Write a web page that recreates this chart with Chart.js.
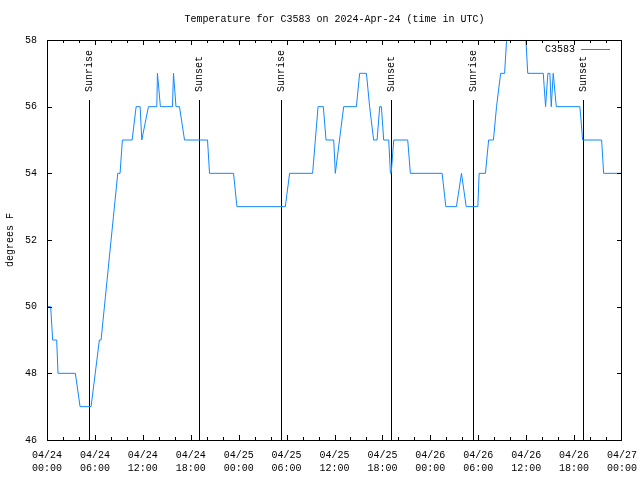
<!DOCTYPE html>
<html lang="en">
<head>
  <meta charset="UTF-8">
  <title>Temperature for C3583</title>
  <script src="https://cdn.jsdelivr.net/npm/chart.js"></script>
  <style>
    html, body { margin: 0; padding: 0; background: #fff; }
    canvas { display: block; }
  </style>
</head>
<body>
  <canvas id="tempChart" width="640" height="480"></canvas>

  <script>
    // station reading, hours since 04/24 00:00 UTC
    const stationName = "C3583";
    const hours = [
      0, 0.46, 0.71, 1.21, 1.38, 3.55, 4.14, 5.52, 6.56, 6.77,
      8.86, 9.15, 9.44, 10.66, 11.16, 11.66, 11.87, 12.70, 13.75, 13.83,
      14.20, 15.71, 15.84, 16.15, 16.59, 17.22, 20.10, 20.35, 23.36, 23.78,
      29.84, 30.38, 33.26, 33.94, 34.60, 34.94, 35.90, 36.10, 37.15, 38.74,
      39.15, 40.00, 40.40, 40.90, 41.33, 41.66, 41.87, 42.16, 42.79, 43.00,
      43.10, 43.42, 45.17, 45.50, 49.48, 49.94, 51.27, 51.90, 52.49, 53.95,
      54.11, 54.90, 55.30, 55.90, 56.29, 56.80, 57.30, 57.55, 57.80, 59.75,
      59.97, 60.20, 62.14, 62.43, 62.72, 62.97, 63.14, 63.39, 63.77, 66.73,
      67.07, 69.45, 69.70, 72
    ];
    const temps = [
      50, 50, 49, 49, 48, 48, 47, 47, 49, 49,
      54, 54, 55, 55, 56, 56, 55, 56, 56, 57,
      56, 56, 57, 56, 56, 55, 55, 54, 54, 53,
      53, 54, 54, 56, 56, 55, 55, 54, 56, 56,
      57, 57, 56, 55, 55, 56, 56, 55, 55, 54,
      54, 55, 55, 54, 54, 53, 53, 54, 53, 53,
      54, 54, 55, 55, 56, 57, 57, 58, 59, 59,
      58, 57, 57, 56, 57, 57, 56, 57, 56, 56,
      55, 55, 54, 54
    ];

    // sunrise / sunset markers
    const eventHours = [5.30, 19.02, 29.25, 43.04, 53.32, 67.10];
    const eventLabels = ["Sunrise", "Sunset", "Sunrise", "Sunset", "Sunrise", "Sunset"];
    const markerTop = 56.2;

    // axes
    const xTickHours = [0, 6, 12, 18, 24, 30, 36, 42, 48, 54, 60, 66, 72];
    const xDayLabels = ["04/24", "04/24", "04/24", "04/24", "04/25", "04/25", "04/25",
                        "04/25", "04/26", "04/26", "04/26", "04/26", "04/27"];
    const xTimeLabels = ["00:00", "06:00", "12:00", "18:00", "00:00", "06:00", "12:00",
                         "18:00", "00:00", "06:00", "12:00", "18:00", "00:00"];
    const xMinorStep = 2;
    const yMin = 46, yMax = 58, yStep = 2;

    const FONT = "'Liberation Mono', 'DejaVu Sans Mono', monospace";
    const LINE_COLOR = "rgb(17, 136, 255)";

    Chart.defaults.font.family = FONT;
    Chart.defaults.font.size = 10;
    Chart.defaults.color = "#000";

    // gnuplot style: closed frame, inward ticks, sunrise/sunset lines, inside key
    const gnuplotFrame = {
      id: "gnuplotFrame",
      beforeDatasetsDraw(chart) {
        const { ctx, chartArea: a, scales: { x, y } } = chart;
        ctx.save();
        ctx.strokeStyle = "#000";
        ctx.lineWidth = 1;
        ctx.fillStyle = "#000";
        ctx.font = "10px " + FONT;
        const top = Math.round(y.getPixelForValue(markerTop));
        eventHours.forEach((h, i) => {
          const px = Math.round(x.getPixelForValue(h)) + 0.5;
          ctx.beginPath();
          ctx.moveTo(px, a.bottom);
          ctx.lineTo(px, top);
          ctx.stroke();
          ctx.save();
          ctx.translate(px, top - 8);
          ctx.rotate(-Math.PI / 2);
          ctx.textAlign = "left";
          ctx.textBaseline = "middle";
          ctx.fillText(eventLabels[i], 0, 0);
          ctx.restore();
        });
        ctx.restore();
      },
      afterDatasetsDraw(chart) {
        const { ctx, chartArea: a, scales: { x, y } } = chart;
        ctx.save();
        ctx.strokeStyle = "#000";
        ctx.lineWidth = 1;
        ctx.strokeRect(a.left + 0.5, a.top + 0.5, a.right - a.left - 1, a.bottom - a.top);

        ctx.beginPath();
        for (let h = x.min + xMinorStep; h < x.max; h += xMinorStep) {
          const px = Math.round(x.getPixelForValue(h)) + 0.5;
          const len = xTickHours.includes(h) ? 5 : 3;
          ctx.moveTo(px, a.bottom);
          ctx.lineTo(px, a.bottom - len);
          ctx.moveTo(px, a.top);
          ctx.lineTo(px, a.top + len);
        }
        for (let v = yMin + yStep; v < yMax; v += yStep) {
          const py = Math.round(y.getPixelForValue(v)) + 0.5;
          ctx.moveTo(a.left, py);
          ctx.lineTo(a.left + 5, py);
          ctx.moveTo(a.right, py);
          ctx.lineTo(a.right - 5, py);
        }
        ctx.stroke();

        // key
        const ky = a.top + 9.5;
        ctx.fillStyle = "#000";
        ctx.font = "10px " + FONT;
        ctx.textAlign = "right";
        ctx.textBaseline = "middle";
        ctx.fillText(chart.data.datasets[0].label, a.right - 47, ky);
        ctx.strokeStyle = chart.data.datasets[0].borderColor;
        ctx.beginPath();
        ctx.moveTo(a.right - 41, ky);
        ctx.lineTo(a.right - 12, ky);
        ctx.stroke();
        ctx.restore();
      }
    };

    new Chart(document.getElementById("tempChart"), {
      type: "line",
      data: {
        datasets: [{
          label: stationName,
          data: hours.map((h, i) => ({ x: h, y: temps[i] })),
          borderColor: LINE_COLOR,
          borderWidth: 1,
          pointRadius: 0,
          tension: 0,
          fill: false
        }]
      },
      options: {
        responsive: false,
        animation: false,
        devicePixelRatio: 1,
        layout: { padding: { left: 0, right: 18, top: 0, bottom: 0 } },
        plugins: {
          legend: { display: false },
          tooltip: { enabled: false },
          title: {
            display: true,
            fullSize: false,
            text: "Temperature for C3583 on 2024-Apr-24 (time in UTC)",
            font: { size: 10, weight: "normal", lineHeight: 1.2 },
            color: "#000",
            padding: { top: 13, bottom: 15 }
          }
        },
        scales: {
          x: {
            type: "linear",
            min: 0,
            max: 72,
            grid: { display: false, drawTicks: false },
            border: { display: false },
            afterBuildTicks: s => { s.ticks = xTickHours.map(v => ({ value: v })); },
            afterFit: s => { s.height = 40; s.paddingLeft = 0; s.paddingRight = 0; },
            ticks: {
              autoSkip: false,
              maxRotation: 0,
              padding: 9,
              font: { size: 10, lineHeight: 1.3 },
              callback: (v, i) => [xDayLabels[i], xTimeLabels[i]]
            }
          },
          y: {
            min: yMin,
            max: yMax,
            grid: { display: false, drawTicks: false },
            border: { display: false },
            afterFit: s => { s.width = 47; },
            ticks: { stepSize: yStep, padding: 10 },
            title: {
              display: true,
              text: "degrees F",
              font: { size: 10, lineHeight: 1.2 },
              padding: { top: 4, bottom: 0 }
            }
          }
        }
      },
      plugins: [gnuplotFrame]
    });
  </script>
</body>
</html>
